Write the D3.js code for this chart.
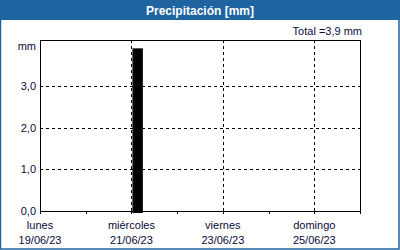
<!DOCTYPE html>
<html>
<head>
<meta charset="utf-8">
<script src="https://cdn.jsdelivr.net/npm/d3@7"></script>
<style>
body{margin:0;background:#fff;}
svg text{font-family:"Liberation Sans",Arial,sans-serif;font-size:11px;fill:#0a0a3c;}
.title{font-weight:bold;fill:#fff;font-size:12px;}
</style>
</head>
<body>
<svg width="400" height="250"></svg>
<script>
// data
var barStarts = ["2023-06-21T00:00"]
var barValues = [3.9]
var barHours = 6
var dayNames = ["lunes","miércoles","viernes","domingo"]
var dayTicks = ["2023-06-19","2023-06-21","2023-06-23","2023-06-25"]
var yTicks = [0,1,2,3]
var totalText = "Total =3,9 mm"

var parse = d3.utcParse("%Y-%m-%dT%H:%M")
var parseDay = d3.utcParse("%Y-%m-%d")

var screen = {width:400,height:250}
var margins = {left:40,right:40,top:40,bottom:39}
var graph = {
    width:screen.width-margins.left-margins.right,
    height:screen.height-margins.top-margins.bottom
}

var svg = d3.select("svg")

// frame and header
svg.append("rect")
    .attr("x",0.5).attr("y",0.5)
    .attr("width",screen.width-1.5).attr("height",screen.height-1.5)
    .attr("fill","#fff")
    .attr("stroke","#1e64a0")
    .attr("stroke-width",1.5)
svg.append("rect")
    .attr("x",0).attr("y",0)
    .attr("width",screen.width).attr("height",20)
    .attr("fill","#1e64a0")
svg.append("text")
    .text("Precipitación [mm]")
    .classed("title",true)
    .attr("text-anchor","middle")
    .attr("x",screen.width/2)
    .attr("y",15)

var xScale = d3.scaleUtc()
    .domain([parseDay("2023-06-19"),parseDay("2023-06-26")])
    .range([0,graph.width])
var yScale = d3.scaleLinear()
    .domain([0,4.1])
    .range([graph.height,0])

var target = svg.append("g")
    .attr("transform","translate("+margins.left+","+margins.top+")")

// grid
var allDays = d3.utcDay.range(xScale.domain()[0],d3.utcDay.offset(xScale.domain()[1],1))
target.selectAll(".vgrid")
    .data(dayTicks.map(parseDay).slice(1))
    .enter().append("line")
    .attr("x1",function(d){return Math.round(xScale(d))+0.5})
    .attr("x2",function(d){return Math.round(xScale(d))+0.5})
    .attr("y1",0).attr("y2",graph.height)
    .attr("stroke","#000").attr("stroke-dasharray","3,3")
target.selectAll(".hgrid")
    .data(yTicks.slice(1))
    .enter().append("line")
    .attr("x1",0).attr("x2",graph.width)
    .attr("y1",function(d){return Math.round(yScale(d))+0.5})
    .attr("y2",function(d){return Math.round(yScale(d))+0.5})
    .attr("stroke","#000").attr("stroke-dasharray","3,3")

// bars
target.selectAll(".bar")
    .data(barStarts.map(function(s,i){return {t:parse(s),v:barValues[i]}}))
    .enter().append("rect")
    .attr("x",function(d){return xScale(d.t)+1})
    .attr("width",function(d){return xScale(d3.utcHour.offset(d.t,barHours))-xScale(d.t)-1})
    .attr("y",function(d){return yScale(d.v)})
    .attr("height",function(d){return graph.height-yScale(d.v)+2})
    .attr("fill","#000")

// plot border
target.append("rect")
    .attr("x",0.5).attr("y",0.5)
    .attr("width",graph.width).attr("height",graph.height)
    .attr("fill","none").attr("stroke","#000")

// x ticks
target.selectAll(".xtick")
    .data(allDays)
    .enter().append("line")
    .attr("x1",function(d){return Math.round(xScale(d))+0.5})
    .attr("x2",function(d){return Math.round(xScale(d))+0.5})
    .attr("y1",graph.height).attr("y2",graph.height+3)
    .attr("stroke","#000")
var fmt = d3.utcFormat("%d/%m/%y")
var xl = target.selectAll(".xlab")
    .data(dayTicks.map(parseDay))
    .enter().append("g")
    .attr("transform",function(d){return "translate("+xScale(d)+","+graph.height+")"})
xl.append("text")
    .text(function(d,i){return dayNames[i]})
    .attr("text-anchor","middle").attr("y",18)
xl.append("text")
    .text(function(d){return fmt(d)})
    .attr("text-anchor","middle").attr("y",33)

// y labels
target.selectAll(".ylab")
    .data(yTicks)
    .enter().append("text")
    .text(function(d){return d3.format(".1f")(d).replace(".",",")})
    .attr("text-anchor","end")
    .attr("x",-4)
    .attr("y",function(d){return yScale(d)+4})
target.append("text")
    .text("mm").attr("text-anchor","end")
    .attr("x",-4).attr("y",10)
target.append("text")
    .text(totalText).attr("text-anchor","end")
    .attr("x",graph.width+2).attr("y",-5)
</script>
</body>
</html>
